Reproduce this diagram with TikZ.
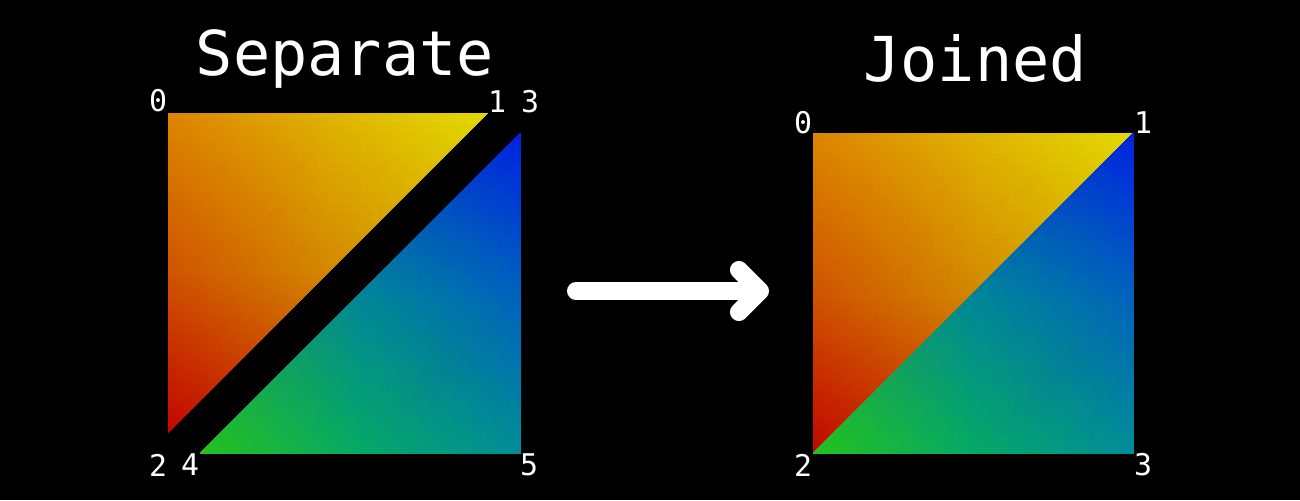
\documentclass[tikz,border=0pt]{standalone}
\usepackage{fontspec}
\setmonofont{DejaVu Sans Mono}
\usepackage{tikz}
\usepackage{pgfplots}
\pgfplotsset{compat=1.18}
\usetikzlibrary{arrows.meta}
\definecolor{vertOrange}{RGB}{220,132,0}
\definecolor{vertYellow}{RGB}{226,216,0}
\definecolor{vertRed}{RGB}{194,4,0}
\definecolor{vertGreen}{RGB}{36,194,28}
\definecolor{vertBlue}{RGB}{0,34,226}
\definecolor{vertTeal}{RGB}{0,142,150}
% edge midpoints
\definecolor{midOY}{RGB}{223,177,0}
\definecolor{midOR}{RGB}{207,82,0}
\definecolor{midYR}{RGB}{210,134,0}
\definecolor{midBT}{RGB}{0,98,190}
\definecolor{midTG}{RGB}{6,170,100}
\definecolor{midBG}{RGB}{0,134,152}
\newcommand{\gouraud}[6]{\addplot[patch,shader=interp,mesh/color input=explicit] coordinates {#1 [color=#2] #3 [color=#4] #5 [color=#6]};}
\newcommand{\idxlabel}[3]{\node[idx] (#1) at #2 {#3};}
\tikzset{
  idx/.style={font=\fontsize{8.5}{8.5}\selectfont\ttfamily,text=white,inner sep=0pt},
  heading/.style={font=\fontsize{17.6}{17.6}\selectfont\ttfamily,text=white,inner sep=0pt,anchor=base},
}

\begin{document}
\begin{tikzpicture}[x=0.01cm,y=-0.01cm]
\fill[black] (0,0) rectangle (1300,500);
\useasboundingbox (0,0) rectangle (1300,500);
\begin{axis}[at={(0,500)},anchor=south west,width=13cm,height=5cm,scale only axis,hide axis,
  xmin=0,xmax=1300,ymin=0,ymax=500,y dir=reverse]
% separate, upper
\gouraud{(168,113)}{vertOrange}{(327.5,113)}{midOY}{(168,272.5)}{midOR}
\gouraud{(327.5,113)}{midOY}{(487,113)}{vertYellow}{(327.5,272.5)}{midYR}
\gouraud{(168,272.5)}{midOR}{(327.5,272.5)}{midYR}{(168,432)}{vertRed}
\gouraud{(327.5,113)}{midOY}{(327.5,272.5)}{midYR}{(168,272.5)}{midOR}
% separate, lower
\gouraud{(520,133)}{vertBlue}{(520,293)}{midBT}{(360,293)}{midBG}
\gouraud{(520,293)}{midBT}{(520,453)}{vertTeal}{(360,453)}{midTG}
\gouraud{(360,293)}{midBG}{(360,453)}{midTG}{(200,453)}{vertGreen}
\gouraud{(520,293)}{midBT}{(360,453)}{midTG}{(360,293)}{midBG}
% joined, upper
\gouraud{(813,133)}{vertOrange}{(973,133)}{midOY}{(813,293)}{midOR}
\gouraud{(973,133)}{midOY}{(1133,133)}{vertYellow}{(973,293)}{midYR}
\gouraud{(813,293)}{midOR}{(973,293)}{midYR}{(813,453)}{vertRed}
\gouraud{(973,133)}{midOY}{(973,293)}{midYR}{(813,293)}{midOR}
% joined, lower
\gouraud{(1133,133)}{vertBlue}{(1133,293)}{midBT}{(973,293)}{midBG}
\gouraud{(1133,293)}{midBT}{(1133,453)}{vertTeal}{(973,453)}{midTG}
\gouraud{(973,293)}{midBG}{(973,453)}{midTG}{(813,453)}{vertGreen}
\gouraud{(1133,293)}{midBT}{(973,453)}{midTG}{(973,293)}{midBG}
\end{axis}
\node[heading] (sepTitle) at (345,75) {Separate};
\node[heading] (joinTitle) at (975,81) {Joined};
\idxlabel{sep0}{(158,101)}{0}
\idxlabel{sep1}{(497,102)}{1}
\idxlabel{sep3}{(530,102)}{3}
\idxlabel{sep2}{(158,465)}{2}
\idxlabel{sep4}{(190,465)}{4}
\idxlabel{sep5}{(529,465)}{5}
\idxlabel{join0}{(803,123)}{0}
\idxlabel{join1}{(1143,123)}{1}
\idxlabel{join2}{(803,465)}{2}
\idxlabel{join3}{(1143,465)}{3}
\coordinate (arrowTail) at (576,291);
\coordinate (arrowTip) at (769,291);
\draw[white,line width=5.1pt,line cap=round,-{Straight Barb[length=6pt,width=12pt,round]}] (arrowTail) -- (arrowTip);
\end{tikzpicture}
\end{document}
